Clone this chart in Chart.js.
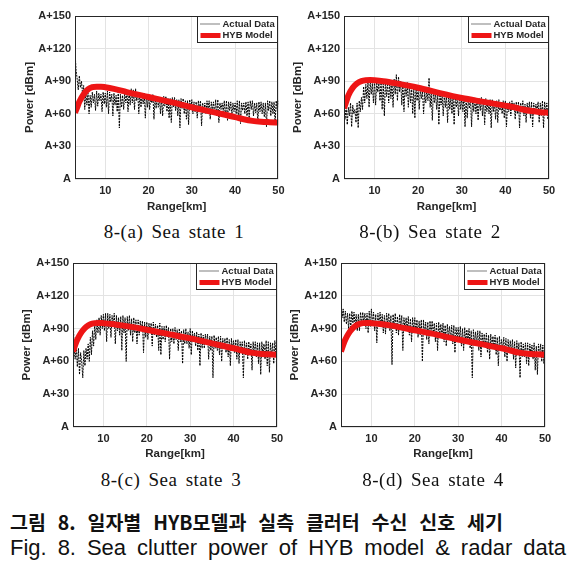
<!DOCTYPE html>
<html><head><meta charset="utf-8">
<script src="https://cdn.jsdelivr.net/npm/chart.js@4.4.1/dist/chart.umd.min.js"></script>
<style>
html,body{margin:0;padding:0;background:#fff}
body{width:578px;height:565px;position:relative;overflow:hidden;font-family:"Liberation Sans",Arial,sans-serif}
canvas{position:absolute}
.cap{position:absolute;font-family:"Liberation Serif","Times New Roman",serif;font-size:19px;line-height:22px;word-spacing:3px;letter-spacing:0.5px;white-space:nowrap;transform:translateX(-50%);color:#111}
.fig{position:absolute;left:10px;white-space:nowrap;text-align:justify;text-align-last:justify;color:#111}
</style></head>
<body>
<canvas id="ca" width="290" height="215" style="left:0;top:0"></canvas>
<canvas id="cb" width="294" height="215" style="left:284px;top:0"></canvas>
<canvas id="cc" width="290" height="212" style="left:0;top:250px"></canvas>
<canvas id="cd" width="294" height="212" style="left:284px;top:250px"></canvas>
<div class="cap" style="left:174px;top:221px">8-(a) Sea state 1</div>
<div class="cap" style="left:430px;top:221px">8-(b) Sea state 2</div>
<div class="cap" style="left:171px;top:469px">8-(c) Sea state 3</div>
<div class="cap" style="left:433px;top:469px">8-(d) Sea state 4</div>
<div class="fig" style="top:509px;width:493px;font-family:'Noto Sans CJK KR',sans-serif;font-weight:bold;font-size:19.5px;line-height:26px">그림 8. 일자별 HYB모델과 실측 클러터 수신 신호 세기</div>
<div class="fig" style="top:535px;width:556px;font-family:'Liberation Sans',Arial,sans-serif;font-size:22px;line-height:26px">Fig. 8. Sea clutter power of HYB model &amp; radar data</div>
<script>
// ---------- data ----------
const seriesNames = ['Actual Data', 'HYB Model'];
const xTickValues = [10, 20, 30, 40, 50];
const yTickValues = [0, 30, 60, 90, 120, 150];
const yTickLabels = ['A', 'A+30', 'A+60', 'A+90', 'A+120', 'A+150'];

const rangeKm = [
 3,3.25,3.5,3.75, 4,4.25,4.5,4.75, 5,5.25,5.5,5.75, 6,6.25,6.5,6.75, 7,7.25,7.5,7.75, 8,8.25,8.5,8.75, 9,9.25,9.5,9.75,
 10,10.25,10.5,10.75, 11,11.25,11.5,11.75, 12,12.25,12.5,12.75, 13,13.25,13.5,13.75, 14,14.25,14.5,14.75, 15,15.25,15.5,15.75,
 16,16.25,16.5,16.75, 17,17.25,17.5,17.75, 18,18.25,18.5,18.75, 19,19.25,19.5,19.75, 20,20.25,20.5,20.75, 21,21.25,21.5,21.75,
 22,22.25,22.5,22.75, 23,23.25,23.5,23.75, 24,24.25,24.5,24.75, 25,25.25,25.5,25.75, 26,26.25,26.5,26.75, 27,27.25,27.5,27.75,
 28,28.25,28.5,28.75, 29,29.25,29.5,29.75, 30,30.25,30.5,30.75, 31,31.25,31.5,31.75, 32,32.25,32.5,32.75, 33,33.25,33.5,33.75,
 34,34.25,34.5,34.75, 35,35.25,35.5,35.75, 36,36.25,36.5,36.75, 37,37.25,37.5,37.75, 38,38.25,38.5,38.75, 39,39.25,39.5,39.75,
 40,40.25,40.5,40.75, 41,41.25,41.5,41.75, 42,42.25,42.5,42.75, 43,43.25,43.5,43.75, 44,44.25,44.5,44.75, 45,45.25,45.5,45.75,
 46,46.25,46.5,46.75, 47,47.25,47.5,47.75, 48,48.25,48.5,48.75, 49,49.25,49.5,49.75, 50];

const actualA = [
 118,100,92,82, 95,84,90,78, 86,64,80,68, 79,60,77,66, 80,70,78,63, 81,67,79,72, 78,62,80,69,
 79,66,81,60, 80,71,78,58, 79,68,77,62, 80,47,78,66, 77,64,79,70, 80,62,81,68,
 83,70,82,64, 83,72,80,60, 79,66,78,69, 79,56,77,66, 78,64,77,70, 78,55,76,65,
 76,66,75,60, 75,58,76,67, 76,62,74,56, 74,52,75,66, 75,63,73,58, 73,47,74,65,
 74,60,72,55, 72,50,73,64, 73,60,71,62, 71,56,72,64, 72,49,70,61, 70,60,72,65,
 72,55,71,63, 71,60,73,58, 73,52,70,64, 70,62,72,57, 72,54,71,63, 71,58,70,62,
 70,60,72,55, 72,51,70,63, 70,60,71,58, 71,56,72,64, 72,58,70,61, 70,52,71,62,
 71,60,70,57, 70,48,72,63, 72,58,71,60, 71,52,72,63, 72];
const actualB = [
 62,55,68,50, 66,58,70,48, 68,60,64,52, 70,47,72,62, 75,64,85,70, 87,74,89,66, 90,78,88,70,
 91,68,89,80, 88,72,90,64, 89,58,91,76, 88,70,90,74, 89,66,92,78, 96,72,94,80,
 90,68,88,62, 87,76,89,66, 86,70,85,60, 84,56,86,72, 83,64,82,74, 81,60,80,70,
 82,72,93,66, 80,54,81,70, 79,64,78,50, 79,68,77,58, 78,66,77,52, 78,64,76,60,
 77,50,76,66, 76,58,77,64, 75,62,76,48, 76,56,74,65, 74,48,75,62, 75,60,73,54,
 74,63,75,58, 73,50,74,62, 72,60,73,47, 73,62,71,55, 72,52,73,63, 71,60,72,56,
 72,48,70,62, 71,58,72,64, 70,55,71,60, 71,47,70,62, 72,58,69,52, 70,61,71,56,
 71,48,70,60, 69,62,71,52, 70,58,72,47, 71,60,70,55, 64];
const actualC = [
 110,70,62,74, 55,72,48,68, 60,45,70,56, 72,62,76,60, 82,66,88,74, 94,80,98,86, 100,84,102,90,
 103,88,104,78, 104,90,103,82, 102,92,104,76, 102,88,100,84, 101,70,102,86, 100,60,101,88,
 102,84,99,78, 100,86,98,76, 98,84,97,88, 97,68,96,82, 96,80,95,86, 95,74,96,84,
 94,82,93,70, 95,66,92,80, 92,78,93,82, 91,62,90,78, 90,76,91,80, 89,70,90,78,
 88,58,89,76, 90,76,87,72, 90,66,88,78, 86,74,87,70, 85,56,86,72, 84,72,85,76,
 85,62,83,70, 83,45,84,72, 82,70,83,66, 83,60,81,72, 81,68,82,64, 80,56,81,70,
 79,68,80,62, 80,58,78,70, 78,45,79,66, 77,62,78,68, 76,52,78,66, 78,64,77,58,
 77,48,78,66, 76,62,79,56, 78,50,77,64, 77,58,79,66, 80];
const actualD = [
 115,100,108,96, 106,94,104,90, 104,90,106,95, 105,92,103,88, 103,88,105,94, 105,96,104,90, 104,86,106,92,
 108,94,105,88, 103,77,104,92, 105,92,103,86, 102,85,104,94, 104,88,102,57, 103,90,104,86,
 101,84,103,92, 102,70,100,88, 100,88,101,84, 99,78,100,88, 100,86,98,82, 97,84,98,60,
 98,84,96,80, 96,76,97,86, 97,85,95,78, 95,70,96,84, 94,82,95,78, 93,74,94,82,
 92,80,93,76, 93,68,91,80, 91,80,92,74, 90,70,91,78, 89,78,90,72, 88,45,89,76,
 87,76,88,70, 88,64,86,74, 85,74,86,68, 84,62,85,72, 83,72,84,66, 82,56,83,70,
 80,70,82,64, 81,60,80,68, 79,68,80,62, 78,54,79,66, 77,45,78,64, 76,64,77,58,
 77,56,76,66, 75,62,77,52, 74,48,76,64, 76,60,75,58, 75];

const modelRangeKm = [3,3.5,4,5,6,7,8,9,10,12,15,20,25,30,35,40,42,44,46,48,50];
const modelA = [61,66,71,78,82.5,84.5,85,85,84.5,83,80,75.5,71,66,61.5,57,55,53.5,52.7,52.3,52];
const modelB = [65,71,77,84,88,90,90.8,91,90.8,90,88,84,79,74.5,71,67.5,66,64,62.5,61.5,61];
const modelC = [69,75,80,87,91.5,94,95,95.2,95,94.3,92.5,89,85,81,76.5,72,70,68,67,66.5,66];
const modelD = [69,75,80,87,91.5,94,95,95.2,95,94.3,92.5,88.5,84.5,80,76,72,70,68,67,66.5,66];

// ---------- drawing ----------
const INK = '#262626';
const RED = '#ee1515';
const TITLE_OFF = 10.9;

const frameLegend = {
  id: 'frameLegend',
  afterDatasetsDraw(chart) {
    const {ctx, chartArea: a} = chart;
    ctx.save();
    ctx.strokeStyle = INK; ctx.lineWidth = 1;
    const L = Math.round(a.left) + 0.5, T = Math.round(a.top) + 0.5;
    const R = Math.round(a.right) - 0.5, B = Math.round(a.bottom) - 0.5;
    ctx.strokeRect(L, T, R - L, B - T);
    const w = 80, h = 26;
    const x = R - w, y = T;
    ctx.fillStyle = '#fff';
    ctx.fillRect(x, y, w, h);
    ctx.strokeRect(x, y, w, h);
    ctx.font = 'bold 9.5px "Liberation Sans", Arial, sans-serif';
    ctx.textBaseline = 'middle'; ctx.textAlign = 'left';
    const ds = chart.data.datasets;
    ctx.strokeStyle = '#000'; ctx.lineWidth = 1; ctx.setLineDash([1, 1]);
    ctx.beginPath(); ctx.moveTo(x + 3, y + 7.5); ctx.lineTo(x + 23, y + 7.5); ctx.stroke();
    ctx.setLineDash([]);
    ctx.fillStyle = INK;
    ctx.fillText(ds[1].label, x + 25, y + 7.5);
    ctx.strokeStyle = RED; ctx.lineWidth = 5;
    ctx.beginPath(); ctx.moveTo(x + 3, y + 19); ctx.lineTo(x + 23, y + 19); ctx.stroke();
    ctx.fillText(ds[0].label, x + 25, y + 19);
    ctx.restore();
  }
};

const panels = [
  {id: 'ca', left: 0,   top: 0,   w: 290, h: 215, L: 75,  R: 280, T: 16,  B: 179, titleX: 30,  actual: actualA, model: modelA},
  {id: 'cb', left: 284, top: 0,   w: 294, h: 215, L: 344, R: 549, T: 16,  B: 179, titleX: 298, actual: actualB, model: modelB},
  {id: 'cc', left: 0,   top: 250, w: 290, h: 212, L: 73,  R: 277, T: 263, B: 427, titleX: 27,  actual: actualC, model: modelC},
  {id: 'cd', left: 284, top: 250, w: 294, h: 212, L: 341, R: 545, T: 263, B: 427, titleX: 295, actual: actualD, model: modelD}
];

const tickFont = {family: '"Liberation Sans", Arial, sans-serif', weight: 'bold', size: 11};
const titleFont = {family: '"Liberation Sans", Arial, sans-serif', weight: 'bold', size: 11.5};

panels.forEach(p => {
  const padLeft = p.titleX - TITLE_OFF - p.left;
  const yWidth = p.L - p.left - padLeft;
  const xHeight = p.top + p.h - p.B;
  new Chart(document.getElementById(p.id), {
    type: 'line',
    data: {
      datasets: [
        {label: seriesNames[1], data: modelRangeKm.map((x, i) => ({x, y: p.model[i]})),
         borderColor: RED, borderWidth: 6, pointRadius: 0, cubicInterpolationMode: 'monotone', order: 0, borderCapStyle: 'butt'},
        {label: seriesNames[0], data: rangeKm.map((x, i) => ({x, y: p.actual[i]})),
         borderColor: '#000', borderWidth: 1, borderDash: [2, 1], pointRadius: 0, tension: 0, order: 1}
      ]
    },
    options: {
      responsive: false, animation: false, devicePixelRatio: 1,
      layout: {padding: {left: padLeft, top: p.T - p.top, right: p.left + p.w - p.R, bottom: 0}},
      plugins: {legend: {display: false}, tooltip: {enabled: false}},
      scales: {
        x: {
          type: 'linear', min: 3, max: 50,
          afterBuildTicks: s => { s.ticks = xTickValues.map(v => ({value: v})); },
          afterFit: s => { s.height = xHeight; },
          grid: {color: '#e3e3e3', drawTicks: false},
          border: {display: false},
          ticks: {font: tickFont, color: INK, padding: 5.5, maxRotation: 0, callback: v => String(v)},
          title: {display: true, text: 'Range[km]', font: titleFont, color: INK, padding: {top: 0, bottom: 1}}
        },
        y: {
          type: 'linear', min: 0, max: 150,
          afterBuildTicks: s => { s.ticks = yTickValues.map(v => ({value: v})); },
          afterFit: s => { s.width = yWidth; },
          grid: {color: '#e3e3e3', drawTicks: false},
          border: {display: false},
          ticks: {font: tickFont, color: INK, padding: 4, callback: v => yTickLabels[yTickValues.indexOf(v)]},
          title: {display: true, text: 'Power [dBm]', font: titleFont, color: INK, padding: {top: 4, bottom: 0}}
        }
      }
    },
    plugins: [frameLegend]
  });
});
</script>
</body></html>
